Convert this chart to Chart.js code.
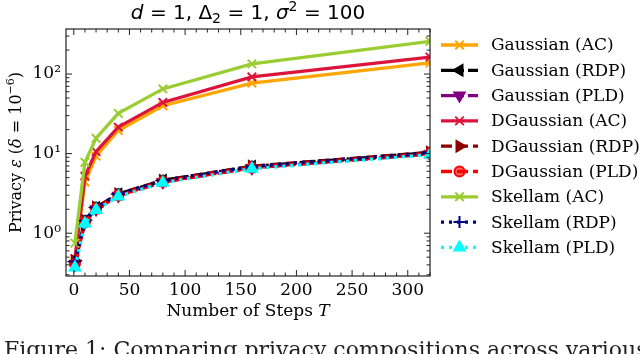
<!DOCTYPE html>
<html>
<head>
<meta charset="utf-8">
<script src="https://cdn.jsdelivr.net/npm/chart.js@4"></script>
<style>
  html, body { margin: 0; padding: 0; background: #fff; }
  #wrap { width: 640px; height: 354px; }
</style>
</head>
<body>
<div id="wrap"><canvas id="mycanvas" width="640" height="354"></canvas></div>
<script>
// number of composition steps T
var steps = [1, 10, 20, 40, 80, 160, 320];

// privacy epsilon per mechanism / accountant
var gaussAC   = [0.45, 4.4, 9.3, 19.5, 40, 77, 138];
var gaussRDP  = [0.44, 1.44, 2.1, 3.1, 4.6, 6.9, 10.3];
var gaussPLD  = [0.40, 1.36, 2.0, 2.95, 4.4, 6.6, 9.9];
var dgaussAC  = [0.48, 5.2, 10.6, 21.5, 44, 92, 163];
var dgaussRDP = [0.45, 1.45, 2.12, 3.12, 4.62, 6.95, 10.4];
var dgaussPLD = [0.41, 1.37, 2.02, 2.97, 4.42, 6.65, 9.95];
var skellAC   = [0.75, 7.8, 15.6, 32, 65, 134, 258];
var skellRDP  = [0.44, 1.43, 2.1, 3.1, 4.6, 6.9, 10.3];
var skellPLD  = [0.37, 1.32, 1.96, 2.9, 4.3, 6.45, 9.7];

var names = ['Gaussian (AC)', 'Gaussian (RDP)', 'Gaussian (PLD)',
	'DGaussian (AC)', 'DGaussian (RDP)', 'DGaussian (PLD)',
	'Skellam (AC)', 'Skellam (RDP)', 'Skellam (PLD)'];
var values = [gaussAC, gaussRDP, gaussPLD, dgaussAC, dgaussRDP, dgaussPLD, skellAC, skellRDP, skellPLD];

var xTicks = [0, 50, 100, 150, 200, 250, 300];
var yTicks = [1, 10, 100];

// look of each line, same order as names
var styles = [
	{ color: '#FFA500', dash: [], marker: 'crossRot', rot: 0 },
	{ color: '#000000', dash: [16, 4, 3, 4], marker: 'triangle', rot: -90 },
	{ color: '#800080', dash: [16, 4, 3, 4], marker: 'triangle', rot: 180 },
	{ color: '#DC143C', dash: [], marker: 'crossRot', rot: 0 },
	{ color: '#8B0000', dash: [11, 5], marker: 'triangle', rot: 90 },
	{ color: '#FF0000', dash: [11, 5], marker: 'circle', rot: 0 },
	{ color: '#9ACD32', dash: [], marker: 'crossRot', rot: 0 },
	{ color: '#000080', dash: [3, 5], marker: 'cross', rot: 0 },
	{ color: '#00FFFF', dash: [3, 5], marker: 'triangle', rot: 0 }
];

var serif = "'DejaVu Serif'";
var sans = "'DejaVu Sans'";
var sup = { '0': '\u2070', '1': '\u00B9', '2': '\u00B2' };

var datasets = [];
for (var i = 0; i < names.length; i++) {
	var pts = [];
	for (var j = 0; j < steps.length; j++) {
		pts.push({ x: steps[j], y: values[i][j] });
	}
	var s = styles[i];
	datasets.push({
		label: names[i],
		data: pts,
		borderColor: s.color,
		backgroundColor: s.color,
		borderWidth: 3.3,
		borderDash: s.dash,
		pointStyle: s.marker,
		pointRotation: s.rot,
		pointRadius: s.marker == 'circle' ? 5 : 6,
		pointBorderWidth: 2,
		pointBackgroundColor: s.marker == 'circle' ? 'rgba(255,0,0,0.6)' : s.color,
		tension: 0,
		clip: 0,
		order: names.length - i
	});
}

function drawRich(ctx, segs, x, y, align) {
	var total = 0;
	segs.forEach(function(s) { ctx.font = s.f; s.w = ctx.measureText(s.t).width; total += s.w; });
	var cx = align == 'center' ? x - total / 2 : x;
	ctx.textAlign = 'left';
	ctx.textBaseline = 'alphabetic';
	segs.forEach(function(s) {
		ctx.font = s.f;
		ctx.fillText(s.t, cx, y + (s.dy || 0));
		cx += s.w;
	});
}

var decor = {
	id: 'decor',
	afterDraw: function(chart) {
		var ctx = chart.ctx;
		var a = chart.chartArea;
		var xs = chart.scales.x, ys = chart.scales.y;
		ctx.save();
		ctx.strokeStyle = '#222';
		ctx.lineWidth = 1.2;
		ctx.setLineDash([]);
		ctx.strokeRect(a.left, a.top, a.right - a.left, a.bottom - a.top);

		// inward ticks on all four sides
		ctx.lineWidth = 1;
		ctx.beginPath();
		for (var v = 0; v <= 320; v += 10) {
			var px = xs.getPixelForValue(v);
			var len = (v % 50 == 0) ? 6 : 3.5;
			ctx.moveTo(px, a.bottom); ctx.lineTo(px, a.bottom - len);
			ctx.moveTo(px, a.top); ctx.lineTo(px, a.top + len);
		}
		for (var d = 0.1; d <= 100; d *= 10) {
			for (var m = 1; m <= 9; m++) {
				var val = d * m;
				if (val < ys.min || val > ys.max) continue;
				var py = ys.getPixelForValue(val);
				var ln = (m == 1) ? 6 : 3.5;
				ctx.moveTo(a.left, py); ctx.lineTo(a.left + ln, py);
				ctx.moveTo(a.right, py); ctx.lineTo(a.right - ln, py);
			}
		}
		ctx.stroke();

		ctx.fillStyle = '#000';
		// title
		drawRich(ctx, [
			{ t: 'd', f: 'italic 20px ' + sans },
			{ t: ' = 1, \u0394', f: '20px ' + sans },
			{ t: '2', f: '14px ' + sans, dy: 4 },
			{ t: ' = 1, ', f: '20px ' + sans },
			{ t: '\u03C3', f: 'italic 20px ' + sans },
			{ t: '2', f: '14px ' + sans, dy: -8 },
			{ t: ' = 100', f: '20px ' + sans }
		], (a.left + a.right) / 2, 19, 'center');

		// x axis title
		drawRich(ctx, [
			{ t: 'Number of Steps ', f: '17px ' + serif },
			{ t: 'T', f: 'italic 17px ' + serif }
		], (a.left + a.right) / 2, 316, 'center');

		// y axis title
		ctx.save();
		ctx.translate(21, (a.top + a.bottom) / 2);
		ctx.rotate(-Math.PI / 2);
		drawRich(ctx, [
			{ t: 'Privacy ', f: '16px ' + serif },
			{ t: '\u03B5', f: 'italic 16px ' + serif },
			{ t: ' (', f: '16px ' + serif },
			{ t: '\u03B4', f: 'italic 16px ' + serif },
			{ t: ' = 10', f: '16px ' + serif },
			{ t: '\u22126', f: '11px ' + serif, dy: -7 },
			{ t: ')', f: '16px ' + serif }
		], 0, 0, 'center');
		ctx.restore();

		// legend
		for (var k = 0; k < names.length; k++) {
			var ds = chart.data.datasets[k];
			var ly = 45 + k * 25.3;
			ctx.save();
			ctx.strokeStyle = ds.borderColor;
			ctx.lineWidth = 3.3;
			ctx.setLineDash(ds.borderDash);
			ctx.beginPath();
			ctx.moveTo(441, ly); ctx.lineTo(478, ly);
			ctx.stroke();
			ctx.setLineDash([]);
			ctx.fillStyle = ds.pointBackgroundColor;
			ctx.strokeStyle = ds.borderColor;
			ctx.lineWidth = 2;
			Chart.helpers.drawPoint(ctx, {
				pointStyle: ds.pointStyle, radius: ds.pointRadius,
				rotation: ds.pointRotation, borderWidth: 2
			}, 459.5, ly);
			ctx.restore();
			ctx.fillStyle = '#000';
			ctx.font = '17px ' + serif;
			ctx.textAlign = 'left';
			ctx.textBaseline = 'middle';
			ctx.fillText(names[k], 491, ly + 1);
		}

		// caption (cut off by the page edge)
		ctx.fillStyle = '#222';
		ctx.font = '22px ' + serif;
		ctx.textAlign = 'left';
		ctx.textBaseline = 'alphabetic';
		ctx.fillText('Figure 1: Comparing privacy compositions across various', 4, 357);
		ctx.restore();
	}
};

var ctx = document.getElementById('mycanvas').getContext('2d');
var chart = new Chart(ctx, {
	type: 'line',
	data: { datasets: datasets },
	plugins: [decor],
	options: {
		responsive: false,
		animation: false,
		layout: { padding: { top: 29, right: 210, left: 0, bottom: 0 } },
		plugins: { legend: { display: false }, tooltip: { enabled: false } },
		scales: {
			x: {
				type: 'linear', min: -7, max: 320,
				afterBuildTicks: function(scale) {
					scale.ticks = xTicks.map(function(v) { return { value: v }; });
				},
				afterFit: function(scale) { scale.height = 78; },
				grid: { display: false, drawTicks: false },
				border: { display: false },
				ticks: { font: { family: 'DejaVu Serif', size: 17 }, color: '#000', padding: 4, maxRotation: 0 }
			},
			y: {
				type: 'logarithmic', min: 0.29, max: 368,
				afterBuildTicks: function(scale) {
					scale.ticks = yTicks.map(function(v) { return { value: v }; });
				},
				afterFit: function(scale) { scale.width = 66; },
				grid: { display: false, drawTicks: false },
				border: { display: false },
				ticks: {
					font: { family: 'DejaVu Serif', size: 17 }, color: '#000', padding: 5,
					callback: function(v) { return '10' + sup[String(Math.round(Math.log10(v)))]; }
				}
			}
		}
	}
});
</script>
</body>
</html>
